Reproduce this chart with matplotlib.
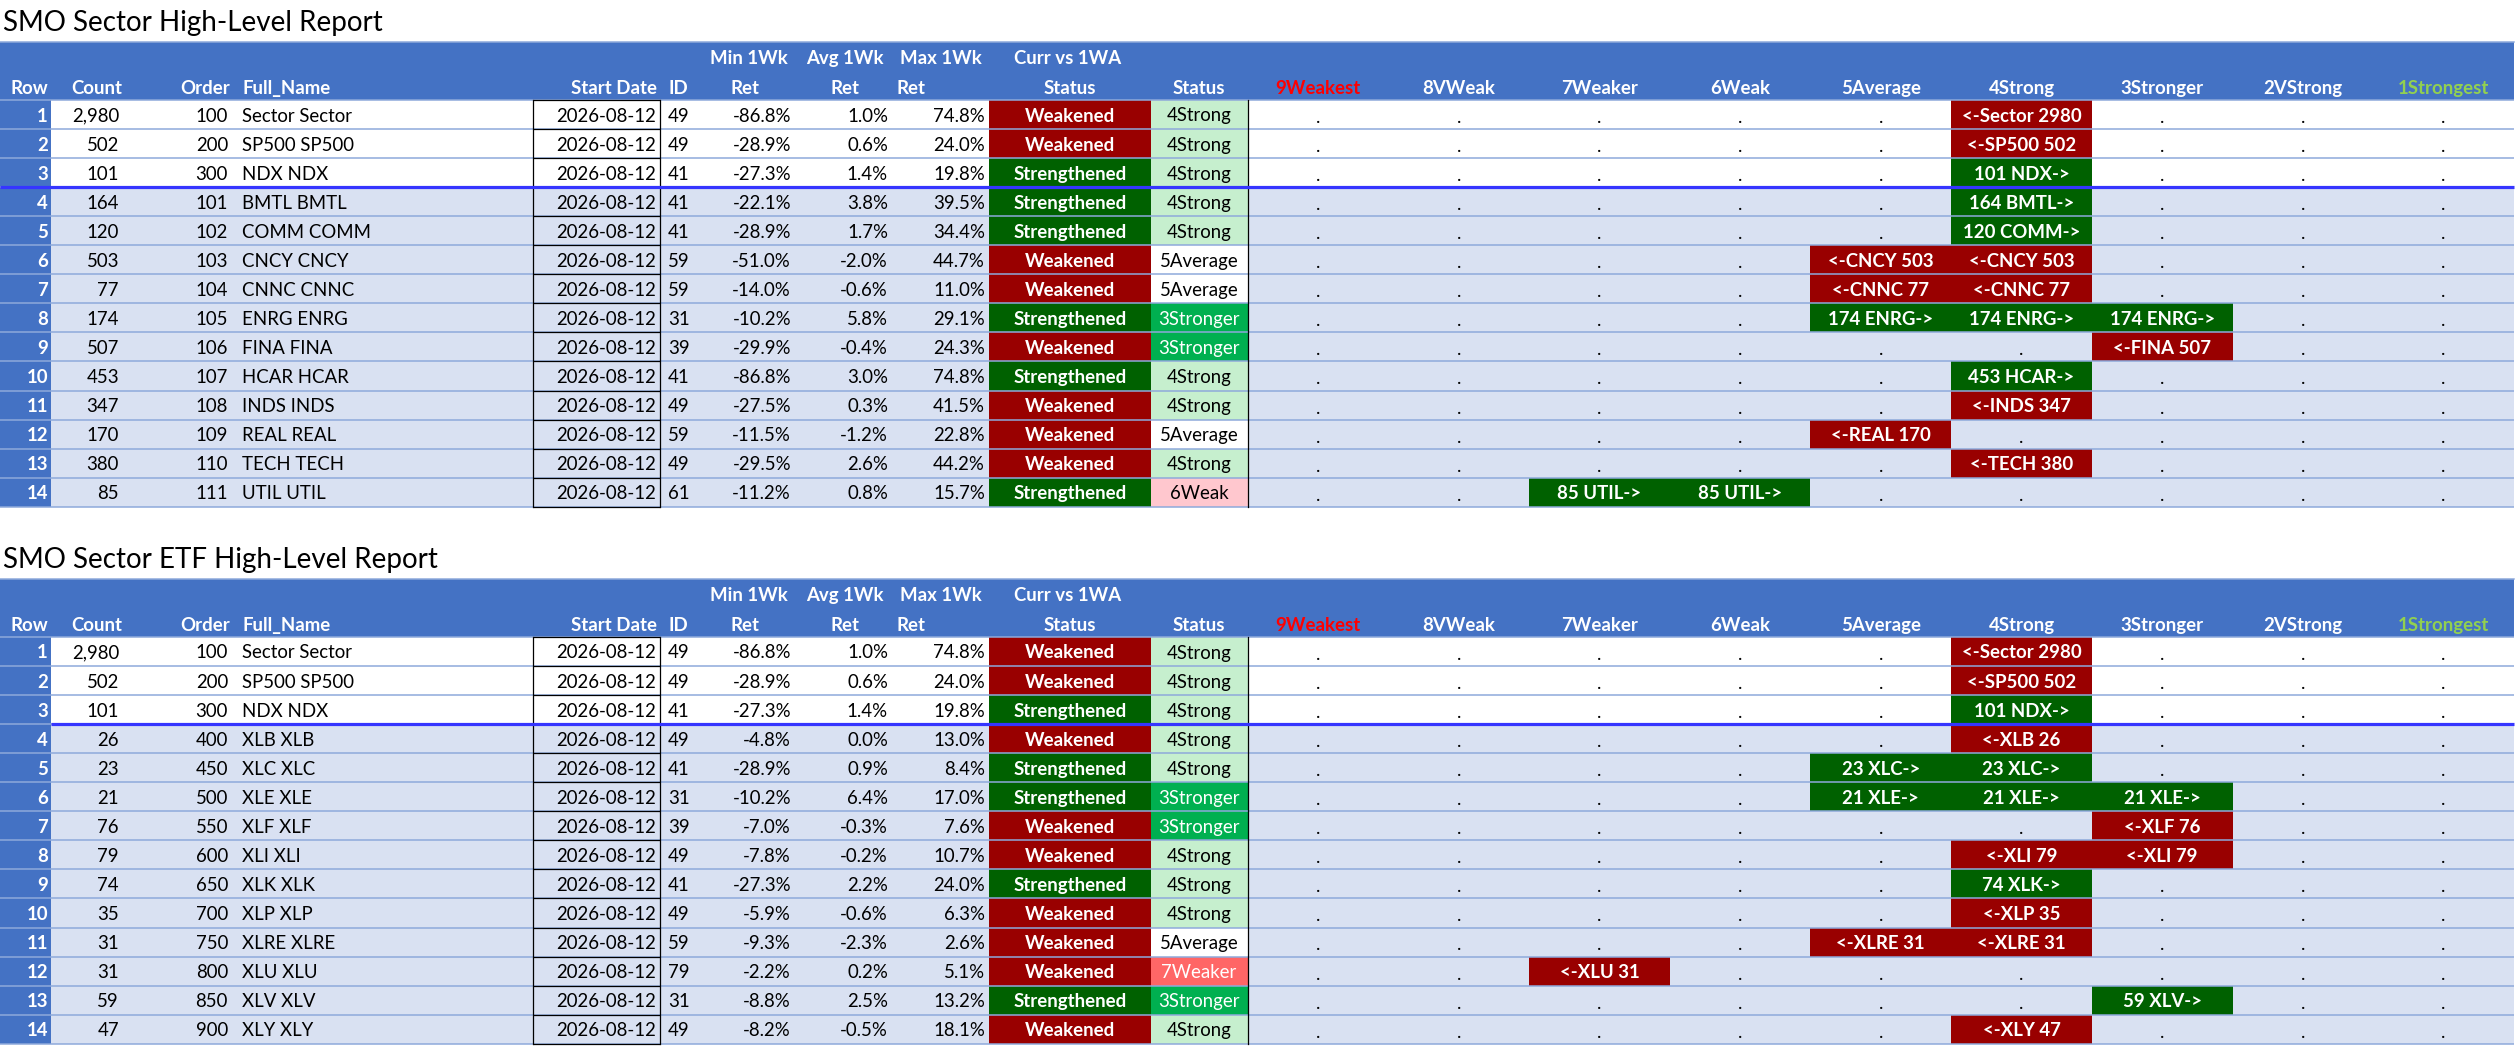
import matplotlib
matplotlib.use("Agg")
import matplotlib.pyplot as plt
from matplotlib.patches import Rectangle

plt.rcParams['font.family'] = ['Lato', 'DejaVu Sans']

# ---- data ----
ratings = ["9Weakest", "8VWeak", "7Weaker", "6Weak", "5Average",
           "4Strong", "3Stronger", "2VStrong", "1Strongest"]

sector_title = "SMO Sector High-Level Report"
sector_count = [2980, 502, 101, 164, 120, 503, 77, 174, 507, 453, 347, 170, 380, 85]
sector_order = [100, 200, 300, 101, 102, 103, 104, 105, 106, 107, 108, 109, 110, 111]
sector_names = ["Sector Sector", "SP500 SP500", "NDX NDX", "BMTL BMTL", "COMM COMM",
                "CNCY CNCY", "CNNC CNNC", "ENRG ENRG", "FINA FINA", "HCAR HCAR",
                "INDS INDS", "REAL REAL", "TECH TECH", "UTIL UTIL"]
sector_id = [49, 49, 41, 41, 41, 59, 59, 31, 39, 41, 49, 59, 49, 61]
sector_min = [-86.8, -28.9, -27.3, -22.1, -28.9, -51.0, -14.0, -10.2, -29.9, -86.8, -27.5, -11.5, -29.5, -11.2]
sector_avg = [1.0, 0.6, 1.4, 3.8, 1.7, -2.0, -0.6, 5.8, -0.4, 3.0, 0.3, -1.2, 2.6, 0.8]
sector_max = [74.8, 24.0, 19.8, 39.5, 34.4, 44.7, 11.0, 29.1, 24.3, 74.8, 41.5, 22.8, 44.2, 15.7]
sector_status = ["Weakened", "Weakened", "Strengthened", "Strengthened", "Strengthened",
                 "Weakened", "Weakened", "Strengthened", "Weakened", "Strengthened",
                 "Weakened", "Weakened", "Weakened", "Strengthened"]
sector_rank = ["4Strong", "4Strong", "4Strong", "4Strong", "4Strong", "5Average", "5Average",
               "3Stronger", "3Stronger", "4Strong", "4Strong", "5Average", "4Strong", "6Weak"]
# rating span (from rank, to rank) filled in the 9..1 columns
sector_span = [(4, 4), (4, 4), (4, 4), (4, 4), (4, 4), (4, 5), (4, 5),
               (5, 3), (3, 3), (4, 4), (4, 4), (5, 5), (4, 4), (7, 6)]

etf_title = "SMO Sector ETF High-Level Report"
etf_count = [2980, 502, 101, 26, 23, 21, 76, 79, 74, 35, 31, 31, 59, 47]
etf_order = [100, 200, 300, 400, 450, 500, 550, 600, 650, 700, 750, 800, 850, 900]
etf_names = ["Sector Sector", "SP500 SP500", "NDX NDX", "XLB XLB", "XLC XLC", "XLE XLE",
             "XLF XLF", "XLI XLI", "XLK XLK", "XLP XLP", "XLRE XLRE", "XLU XLU",
             "XLV XLV", "XLY XLY"]
etf_id = [49, 49, 41, 49, 41, 31, 39, 49, 41, 49, 59, 79, 31, 49]
etf_min = [-86.8, -28.9, -27.3, -4.8, -28.9, -10.2, -7.0, -7.8, -27.3, -5.9, -9.3, -2.2, -8.8, -8.2]
etf_avg = [1.0, 0.6, 1.4, 0.0, 0.9, 6.4, -0.3, -0.2, 2.2, -0.6, -2.3, 0.2, 2.5, -0.5]
etf_max = [74.8, 24.0, 19.8, 13.0, 8.4, 17.0, 7.6, 10.7, 24.0, 6.3, 2.6, 5.1, 13.2, 18.1]
etf_status = ["Weakened", "Weakened", "Strengthened", "Weakened", "Strengthened",
              "Strengthened", "Weakened", "Weakened", "Strengthened", "Weakened",
              "Weakened", "Weakened", "Strengthened", "Weakened"]
etf_rank = ["4Strong", "4Strong", "4Strong", "4Strong", "4Strong", "3Stronger", "3Stronger",
            "4Strong", "4Strong", "4Strong", "5Average", "7Weaker", "3Stronger", "4Strong"]
etf_span = [(4, 4), (4, 4), (4, 4), (4, 4), (5, 4), (5, 3), (3, 3),
            (3, 4), (4, 4), (4, 4), (4, 5), (7, 7), (3, 3), (4, 4)]

start_date = "2026-08-12"

# ---- style ----
HEADER = "#4472C4"
BAND = "#D9E1F2"
GRID = "#8EA9DB"
SEP = "#3535FF"
RED = "#990000"
GREEN = "#006100"
rank_style = {
    "3Stronger": ("#00B050", "white"),
    "4Strong": ("#C6EFCE", "black"),
    "5Average": ("white", "black"),
    "6Weak": ("#FFC7CE", "black"),
    "7Weaker": ("#FF6666", "white"),
}
FS = 13.4
RH = 29.05
X_END = 2514
RX0 = 1247.6
RW = (X_END - RX0) / 9


def draw_table(ax, top, title, count, order, names, ids, mins, avgs, maxs,
               status, rank, span, sep_x0):
    y0 = top + 57.7
    n = len(count)
    y_end = y0 + n * RH

    ax.text(3, top - 19, title, fontsize=20, va="center", ha="left")

    # backgrounds
    for i in range(n):
        bg = "white" if i < 3 else BAND
        ax.add_patch(Rectangle((51, y0 + i * RH), X_END - 51, RH, color=bg, lw=0))
    ax.add_patch(Rectangle((0, top), X_END, y0 - top, color=HEADER, lw=0))
    ax.add_patch(Rectangle((0, top), 51, y_end - top, color=HEADER, lw=0))

    # header text
    hy1, hy2 = top + 16, top + 46
    hkw = dict(color="white", fontsize=FS, fontweight="bold", va="center")
    ax.text(48, hy2, "Row", ha="right", **hkw)
    ax.text(71, hy2, "Count", ha="left", **hkw)
    ax.text(180, hy2, "Order", ha="left", **hkw)
    ax.text(242, hy2, "Full_Name", ha="left", **hkw)
    ax.text(657, hy2, "Start Date", ha="right", **hkw)
    ax.text(668, hy2, "ID", ha="left", **hkw)
    for right, left, lab in [(788, 731, "Min 1Wk"), (884, 830, "Avg 1Wk"), (982, 897, "Max 1Wk")]:
        ax.text(right, hy1, lab, ha="right", **hkw)
        ax.text(left, hy2, "Ret", ha="left", **hkw)
    ax.text(1014, hy1, "Curr vs 1WA", ha="left", **hkw)
    ax.text(1070, hy2, "Status", ha="center", **hkw)
    ax.text(1199, hy2, "Status", ha="center", **hkw)
    for k, lab in enumerate(ratings):
        col = "white"
        if k == 0:
            col = "#FF0000"
        elif k == 8:
            col = "#92D050"
        ax.text(RX0 + (k + 0.5) * RW, hy2, lab, ha="center", color=col,
                fontsize=FS, fontweight="bold", va="center")

    # rows
    for i in range(n):
        yt = y0 + i * RH
        yc = yt + 16
        ax.text(48, yc, str(i + 1), ha="right", va="center", color="white",
                fontsize=FS, fontweight="bold")
        ax.text(119, yc, f"{count[i]:,}", ha="right", va="center", fontsize=FS)
        ax.text(228, yc, str(order[i]), ha="right", va="center", fontsize=FS)
        ax.text(242, yc, names[i], ha="left", va="center", fontsize=FS)
        ax.text(656, yc, start_date, ha="right", va="center", fontsize=FS)
        ax.text(668, yc, str(ids[i]), ha="left", va="center", fontsize=FS)
        ax.text(791, yc, f"{mins[i]:.1f}%", ha="right", va="center", fontsize=FS)
        ax.text(888, yc, f"{avgs[i]:.1f}%", ha="right", va="center", fontsize=FS)
        ax.text(985, yc, f"{maxs[i]:.1f}%", ha="right", va="center", fontsize=FS)

        weak = status[i] == "Weakened"
        ax.add_patch(Rectangle((988.5, yt), 1151 - 988.5, RH, color=RED if weak else GREEN, lw=0))
        ax.text(1070, yc, status[i], ha="center", va="center", color="white",
                fontsize=FS, fontweight="bold")

        rbg, rfg = rank_style[rank[i]]
        ax.add_patch(Rectangle((1151, yt), RX0 - 1151, RH, color=rbg, lw=0))
        ax.text(1199, yc, rank[i], ha="center", va="center", color=rfg, fontsize=FS)

        short = names[i].split()[0]
        label = f"<-{short} {count[i]}" if weak else f"{count[i]} {short}->"
        r_a, r_b = span[i]
        filled = range(min(r_a, r_b), max(r_a, r_b) + 1)
        for k in range(9):
            xc = RX0 + (k + 0.5) * RW
            if 9 - k in filled:
                ax.add_patch(Rectangle((RX0 + k * RW, yt), RW, RH,
                                       color=RED if weak else GREEN, lw=0))
                ax.text(xc, yc, label, ha="center", va="center", color="white",
                        fontsize=FS, fontweight="bold")
            else:
                ax.text(xc, yt + 23, ".", ha="center", va="baseline", fontsize=FS)

    # grid lines
    for i in range(n + 1):
        yy = y0 + i * RH
        ax.plot([0, X_END], [yy, yy], color=GRID, lw=1.1, solid_capstyle="butt")
        ax.plot([532.5, 660], [yy, yy], color="black", lw=0.9, solid_capstyle="butt")
    ax.plot([0, X_END], [top, top], color=GRID, lw=1.1)
    for xx in (532.5, 660, RX0):
        ax.plot([xx, xx], [y0, y_end], color="black", lw=0.9)

    ysep = y0 + 3 * RH
    ax.plot([sep_x0, X_END], [ysep, ysep], color=SEP, lw=2.3, solid_capstyle="butt")


fig = plt.figure(figsize=(25.17, 10.46), dpi=100)
ax = fig.add_axes([0, 0, 1, 1])
ax.set_xlim(0, 2517)
ax.set_ylim(1046, 0)
ax.axis("off")

draw_table(ax, 42.3, sector_title, sector_count, sector_order, sector_names, sector_id,
           sector_min, sector_avg, sector_max, sector_status, sector_rank, sector_span, 0)
draw_table(ax, 579.3, etf_title, etf_count, etf_order, etf_names, etf_id,
           etf_min, etf_avg, etf_max, etf_status, etf_rank, etf_span, 51)

fig.savefig("out.png", dpi=100)
